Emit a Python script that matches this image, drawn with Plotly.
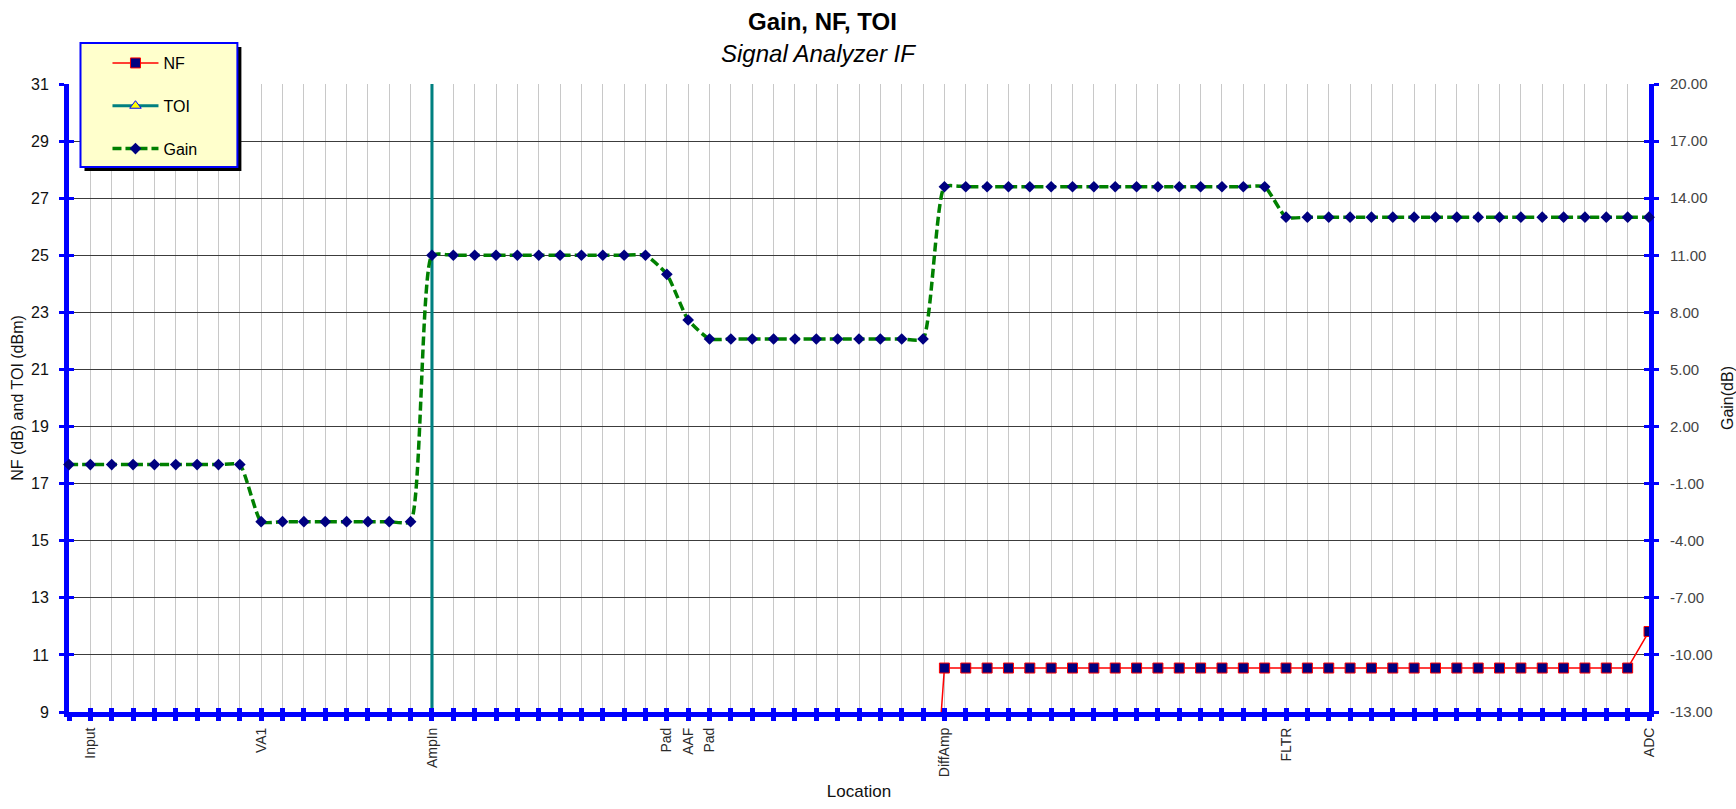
import plotly.graph_objects as go

# ---------------- data ----------------
locations = ([""] + ["Input"] + [""] * 7 + ["VA1"] + [""] * 7 + ["AmpIn"] + [""] * 10
             + ["Pad", "AAF", "Pad"] + [""] * 10 + ["DiffAmp"] + [""] * 15 + ["FLTR"]
             + [""] * 16 + ["ADC"])
gain_db = ([0.0] * 9 + [-3.0] * 8 + [11.0] * 11 + [10.0, 7.6] + [6.6] * 11
           + [14.6] * 16 + [13.0] * 18)
nf_db = [0.0] * 41 + [10.54] * 33 + [11.82]
toi_dbm = [-10000.0] * 17 + [40.0] + [-10000.0] * 57

left_ticks = list(range(9, 32, 2))
right_ticks = list(range(-13, 21, 3))
right_tick_text = ["%.2f" % v for v in right_ticks]

# ---------------- geometry helpers ----------------
W, H = 1736, 809
L, R, T, B = 68.5, 1649.5, 84, 712.5


def px_x(p):
    return (p - L) / (R - L)


def px_y(p):
    return (B - p) / (B - T)


FONT = "Arial, Liberation Sans, sans-serif"
BLUE = "#0000ff"
x_idx = list(range(len(locations)))

fig = go.Figure()
fig.add_trace(go.Scatter(
    x=x_idx, y=nf_db, name="NF", mode="lines+markers", legendgroup="nf",
    line=dict(color="#ff0000", width=1.5),
    marker=dict(symbol="square", size=10, color="#000080", line=dict(color="#ff0000", width=1)),
    cliponaxis=True))
fig.add_trace(go.Scatter(
    x=x_idx, y=toi_dbm, name="TOI", mode="lines+markers", legendgroup="toi",
    line=dict(color="#008080", width=3),
    marker=dict(symbol="triangle-up", size=10, color="#ffff00", line=dict(color=BLUE, width=1)),
    cliponaxis=True))
fig.add_trace(go.Scatter(
    x=x_idx, y=gain_db, name="Gain", yaxis="y2", mode="lines+markers", legendgroup="gain",
    line=dict(color="#008000", width=3.5, dash="9px,4px", shape="spline", smoothing=0.5),
    marker=dict(symbol="diamond", size=9, color="#000080"),
    cliponaxis=False))

# hidden traces to hold overlay axes that draw the inner half of the crossing ticks
fig.add_trace(go.Scatter(x=[], y=[], xaxis="x2", yaxis="y", showlegend=False, hoverinfo="skip"))
fig.add_trace(go.Scatter(x=[], y=[], xaxis="x", yaxis="y3", showlegend=False, hoverinfo="skip"))
fig.add_trace(go.Scatter(x=[], y=[], xaxis="x", yaxis="y4", showlegend=False, hoverinfo="skip"))

fig.update_layout(
    width=W, height=H,
    margin=dict(l=L, r=W - R, t=T, b=H - B, autoexpand=False),
    paper_bgcolor="white", plot_bgcolor="white",
    font=dict(family=FONT, color="#000"),
    showlegend=True,
    legend=dict(x=px_x(107), y=px_y(46), xanchor="left", yanchor="top",
                bgcolor="rgba(0,0,0,0)", borderwidth=0,
                font=dict(size=16, color="#000", family=FONT),
                itemwidth=46, tracegroupgap=19, traceorder="grouped"),
    xaxis=dict(range=[0, len(locations) - 1], tickmode="array", tickvals=x_idx, ticktext=locations,
               tickangle=-90, showline=True, linecolor=BLUE, linewidth=5, automargin=False,
               ticks="outside", ticklen=4, tickwidth=5, tickcolor=BLUE,
               showgrid=True, gridcolor="#c8c8c8", gridwidth=1, zeroline=False,
               layer="below traces", ticklabelstandoff=1,
               tickfont=dict(size=14, color="#2a2a2a", family=FONT),
               title=dict(text="Location", font=dict(size=17, color="#111", family=FONT), standoff=10)),
    xaxis2=dict(overlaying="x", anchor="y", range=[0, len(locations) - 1], tickmode="array",
                tickvals=x_idx, ticks="inside", ticklen=4, tickwidth=5, tickcolor=BLUE, automargin=False,
                showticklabels=False, showgrid=False, showline=False, zeroline=False),
    yaxis=dict(range=[left_ticks[0], left_ticks[-1]], tickmode="array", tickvals=left_ticks,
               showline=True, linecolor=BLUE, linewidth=5, automargin=False,
               ticks="outside", ticklen=5, tickwidth=3, tickcolor=BLUE,
               showgrid=True, gridcolor="#3c3c3c", gridwidth=1, zeroline=False,
               layer="below traces", ticklabelstandoff=7,
               tickfont=dict(size=16, color="#111", family=FONT),
               title=dict(text="NF (dB) and TOI (dBm)", font=dict(size=16, color="#111", family=FONT),
                          standoff=5)),
    yaxis2=dict(overlaying="y", side="right", anchor="x", range=[right_ticks[0], right_ticks[-1]],
                tickmode="array", tickvals=right_ticks, ticktext=right_tick_text,
                showline=True, linecolor=BLUE, linewidth=5, automargin=False,
                ticks="outside", ticklen=5, tickwidth=3, tickcolor=BLUE,
                showgrid=False, zeroline=False, layer="below traces", ticklabelstandoff=8,
                tickfont=dict(size=15, color="#444", family=FONT),
                title=dict(text="Gain(dB)", font=dict(size=16, color="#111", family=FONT), standoff=12)),
    yaxis3=dict(overlaying="y", side="left", anchor="x", range=[left_ticks[0], left_ticks[-1]],
                tickmode="array", tickvals=left_ticks, ticks="inside", ticklen=5, tickwidth=3,
                automargin=False,
                tickcolor=BLUE, showticklabels=False, showgrid=False, showline=False, zeroline=False),
    yaxis4=dict(overlaying="y", side="right", anchor="x", range=[right_ticks[0], right_ticks[-1]],
                tickmode="array", tickvals=right_ticks, ticks="inside", ticklen=5, tickwidth=3,
                automargin=False,
                tickcolor=BLUE, showticklabels=False, showgrid=False, showline=False, zeroline=False),
    shapes=[
        dict(type="rect", xref="paper", yref="paper", layer="above",
             x0=px_x(84), x1=px_x(241), y0=px_y(171), y1=px_y(47),
             fillcolor="#000000", line=dict(width=0)),
        dict(type="rect", xref="paper", yref="paper", layer="above",
             x0=px_x(80), x1=px_x(237), y0=px_y(167), y1=px_y(43),
             fillcolor="#ffffcc", line=dict(color=BLUE, width=2)),
    ],
    annotations=[
        dict(text="<b>Gain, NF, TOI</b>", xref="paper", yref="paper", x=px_x(822), y=px_y(21),
             xanchor="center", yanchor="middle", showarrow=False,
             font=dict(size=24, color="#000", family=FONT)),
        dict(text="<i>Signal Analyzer IF</i>", xref="paper", yref="paper", x=px_x(818), y=px_y(53),
             xanchor="center", yanchor="middle", showarrow=False,
             font=dict(size=24, color="#000", family=FONT)),
    ],
)

fig.write_html("out.html", config={"displayModeBar": False},
               post_script="document.body.style.margin='0';document.body.style.overflow='hidden';")
